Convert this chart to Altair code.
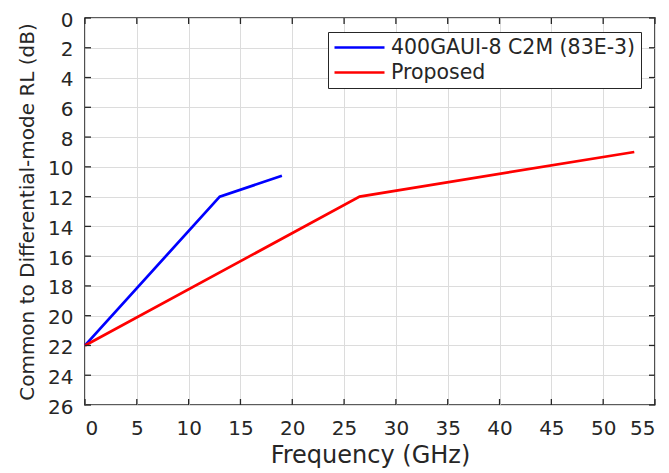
import altair as alt
import pandas as pd

series_names = ["400GAUI-8 C2M (83E-3)", "Proposed"]
blue_freq = [0, 13, 19]
blue_rl = [22, 12, 10.6]
red_freq = [0, 26.5, 53]
red_rl = [22, 12, 9]
x_ticks = [0, 5, 10, 15, 20, 25, 30, 35, 40, 45, 50, 55]
y_ticks = [0, 2, 4, 6, 8, 10, 12, 14, 16, 18, 20, 22, 24, 26]

W, H = 570, 387
FONT = "DejaVu Sans"
TXT = "#262626"

rows = []
for f, r in zip(blue_freq, blue_rl):
    rows.append({"f": f, "rl": r, "s": series_names[0], "o": 0})
for f, r in zip(red_freq, red_rl):
    rows.append({"f": f, "rl": r, "s": series_names[1], "o": 1})
df = pd.DataFrame(rows)

xscale = alt.Scale(domain=[0, 55], nice=False, zero=False)
yscale = alt.Scale(domain=[0, 26], nice=False, zero=False, reverse=True)
xaxis = alt.Axis(title="Frequency (GHz)", values=x_ticks, tickSize=0,
                 labelPadding=13, titlePadding=5, grid=True,
                 gridColor="#dcdcdc", domain=False, titleFontSize=24)
yaxis = alt.Axis(title="Common to Differential-mode RL (dB)", values=y_ticks,
                 tickSize=0, labelPadding=12, titlePadding=10, grid=True,
                 gridColor="#dcdcdc", domain=False, titleFontSize=20,
                 labelOffset=2)

lines = alt.Chart(df).mark_line(strokeWidth=2.7).encode(
    x=alt.X("f:Q", scale=xscale, axis=xaxis),
    y=alt.Y("rl:Q", scale=yscale, axis=yaxis),
    color=alt.Color("s:N", scale=alt.Scale(domain=series_names, range=["#0000ff", "#ff0000"]),
                    legend=alt.Legend(title=None)),
    detail="o:N",
)

xt = pd.DataFrame({"f": x_ticks})
yt = pd.DataFrame({"rl": y_ticks})
tick_style = dict(color="#262626", strokeWidth=1.3)

xb = alt.Chart(xt).mark_rule(**tick_style).encode(
    x=alt.X("f:Q", scale=xscale, axis=xaxis), y=alt.value(H), y2=alt.value(H - 6))
xtop = alt.Chart(xt).mark_rule(**tick_style).encode(
    x=alt.X("f:Q", scale=xscale, axis=xaxis), y=alt.value(0), y2=alt.value(6))
yl = alt.Chart(yt).mark_rule(**tick_style).encode(
    y=alt.Y("rl:Q", scale=yscale, axis=yaxis), x=alt.value(0), x2=alt.value(6))
yr = alt.Chart(yt).mark_rule(**tick_style).encode(
    y=alt.Y("rl:Q", scale=yscale, axis=yaxis), x=alt.value(W), x2=alt.value(W - 6))

chart = alt.layer(lines, xb, xtop, yl, yr).properties(
    width=W, height=H,
    autosize=alt.AutoSizeParams(type="none"),
    padding={"left": 77, "top": 10, "right": 6, "bottom": 66},
).configure_view(
    stroke="#262626", strokeWidth=1.6
).configure_axis(
    labelFont=FONT, labelFontSize=20, labelColor=TXT,
    titleFont=FONT, titleColor=TXT, titleFontWeight="normal",
).configure_legend(
    orient="none", legendX=243, legendY=14,
    strokeColor="#262626", fillColor="white", padding=5,
    symbolType="stroke", symbolSize=2500, symbolStrokeWidth=2.7,
    clipHeight=21, labelLimit=400,
    labelFont=FONT, labelFontSize=20.5, labelColor=TXT, rowPadding=4, labelOffset=5,
)

chart.save("out.html", embed_options={"renderer": "svg", "actions": False})
